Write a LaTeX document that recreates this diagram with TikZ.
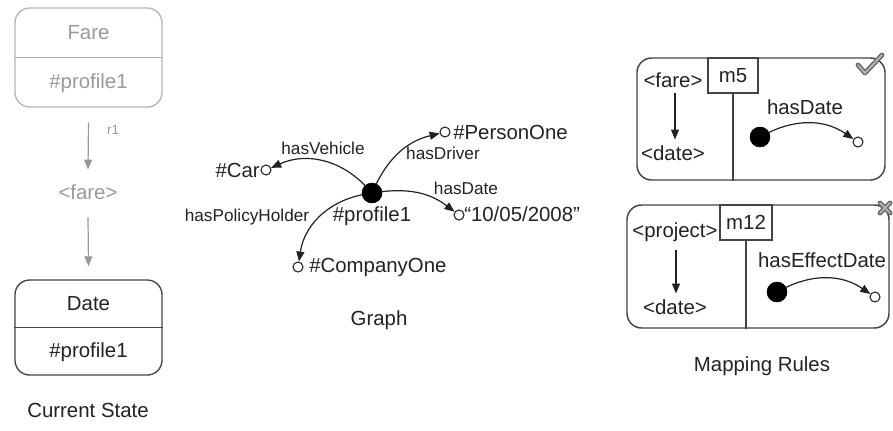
\documentclass[tikz,border=0pt]{standalone}
\usepackage{fontspec}
\setmainfont{Liberation Sans}
\usetikzlibrary{arrows.meta}
\definecolor{ink}{HTML}{222222}
\definecolor{faded}{HTML}{999999}
\definecolor{fadedline}{HTML}{B5B5B5}
\definecolor{boxline}{HTML}{444444}
\tikzset{
  big/.style={font=\fontsize{15.3}{18}\selectfont, inner sep=0pt, text=ink},
  lbl/.style={font=\fontsize{12.9}{15}\selectfont, inner sep=0pt, text=ink},
  tiny/.style={font=\fontsize{10}{12}\selectfont, inner sep=0pt, text=faded},
  tipd/.style={-{Triangle[length=7.5pt,width=6pt]}, line width=0.9pt, draw=ink},
  tipg/.style={-{Triangle[length=7.5pt,width=6pt]}, line width=0.9pt, draw=faded, fill=faded},
  statebox/.style={draw, rounded corners=11pt, line width=1pt, minimum width=110.25pt, inner sep=0pt},
  mbox/.style={draw=boxline, rounded corners=11pt, line width=1.1pt, inner sep=0pt},
  lblbox/.style={draw=boxline, fill=white, line width=1.1pt, inner sep=0pt, font=\fontsize{15.3}{18}\selectfont, text=ink},
  bigdot/.style={circle, fill=black, draw=black, minimum size=15pt, inner sep=0pt},
  smallc/.style={circle, draw=ink, fill=white, line width=0.8pt, minimum size=7.5pt, inner sep=0pt},
  markdark/.style={line width=3.6pt, black!60, line cap=round, line join=round},
  marklight/.style={line width=1.5pt, black!30, line cap=round, line join=round},
}
\begin{document}
\begin{tikzpicture}[x=0.75pt,y=-0.75pt]
\useasboundingbox (0,0) rectangle (893,430);

% ---------------- Current State ----------------
\node[statebox, draw=fadedline, minimum height=74.25pt] (farebox) at (88.5,57.5) {};
\draw[fadedline, line width=1pt] (farebox.west) -- (farebox.east);
\node[big, text=faded] (farename) at (88.5,33) {Fare};
\node[big, text=faded] (fareprof) at (88.5,83) {\#profile1};
\node[big, text=faded] (farelbl) at (88,192) {<fare>};
\node[tiny] (rone) at (113,130) {r1};
\draw[tipg] ([yshift=-11.25pt]farebox.south) -- ([yshift=11pt]farelbl.north);

\node[statebox, draw=boxline, minimum height=71.25pt] (datebox) at (88.5,327.5) {};
\draw[boxline, line width=1pt] (datebox.west) -- (datebox.east);
\node[big] (datename) at (88.5,304) {Date};
\node[big] (dateprof) at (88.5,352) {\#profile1};
\draw[tipg] ([yshift=-13pt]farelbl.south) -- ([yshift=9.75pt]datebox.north);
\node[big] (capstate) at (88,410) {Current State};

% ---------------- Graph ----------------
\node[bigdot] (pone) at (372,193) {};
\node[smallc] (car) at (266,170) {};
\node[smallc] (person) at (445,132) {};
\node[smallc] (dval) at (459,215) {};
\node[smallc] (comp) at (298,267) {};

\node[big, anchor=east] (cartxt) at (260,170) {\#Car};
\node[big, anchor=west] (persontxt) at (453,132) {\#PersonOne};
\node[big, anchor=west] (dvaltxt) at (464,214) {“10/05/2008”};
\node[big, anchor=west] (comptxt) at (309,267) {\#CompanyOne};
\node[big] (ponetxt) at (372,216) {\#profile1};

\draw[tipd] (pone) to[bend right=35] (car);
\draw[tipd] (pone) to[bend left=25] (person);
\draw[tipd] (pone) to[bend left=22] (dval);
\draw[tipd] (pone) to[bend right=35] (comp);

\node[lbl] (lveh) at (323,148) {hasVehicle};
\node[lbl] (ldrv) at (443,153) {hasDriver};
\node[lbl] (ldat) at (466,188) {hasDate};
\node[lbl] (lpol) at (247,217) {hasPolicyHolder};
\node[big] (capgraph) at (379,320) {Graph};

% ---------------- Mapping rule m5 ----------------
\node[mbox, minimum width=186pt, minimum height=91.5pt] (mfive) at (761,119) {};
\node[lblbox, minimum width=37.5pt, minimum height=26.25pt] (mfivelbl) at (733,75.5) {m5};
\draw[boxline, line width=1.1pt] (mfivelbl.south) -- (mfivelbl.south |- mfive.south);
\node[big] (mfa) at (673,80) {<fare>};
\node[big] (mfb) at (673,153) {<date>};
\draw[tipd] ([xshift=1.5pt,yshift=-4pt]mfa.south) -- ([xshift=1.5pt,yshift=4.3pt]mfb.north);
\node[big] (mfl) at (805,107) {hasDate};
\node[bigdot] (mfd) at (760,137) {};
\node[smallc] (mfc) at (858,142) {};
\draw[tipd] (mfd) to[bend left=30] (mfc);
\draw[markdark] (858,65) -- (865,73) -- (882,55);
\draw[marklight] (858,65) -- (865,73) -- (882,55);

% ---------------- Mapping rule m12 ----------------
\node[mbox, minimum width=196.5pt, minimum height=92.25pt] (mtw) at (758,266.5) {};
\node[lblbox, minimum width=39pt, minimum height=26.25pt] (mtwlbl) at (746,222.5) {m12};
\draw[boxline, line width=1.1pt] (mtwlbl.south) -- (mtwlbl.south |- mtw.south);
\node[big] (mta) at (675,232) {<project>};
\node[big] (mtb) at (675,307) {<date>};
\draw[tipd] ([xshift=0.75pt,yshift=-6pt]mta.south) -- ([xshift=0.75pt,yshift=4.3pt]mtb.north);
\node[big] (mtl) at (822,260) {hasEffectDate};
\node[bigdot] (mtd) at (777,292) {};
\node[smallc] (mtc) at (875,297) {};
\draw[tipd] (mtd) to[bend left=30] (mtc);
\draw[markdark] (880,203) -- (890,213) (880,213) -- (890,203);
\draw[marklight] (880,203) -- (890,213) (880,213) -- (890,203);

\node[big] (capmap) at (762,366) {Mapping Rules};
\end{tikzpicture}
\end{document}
